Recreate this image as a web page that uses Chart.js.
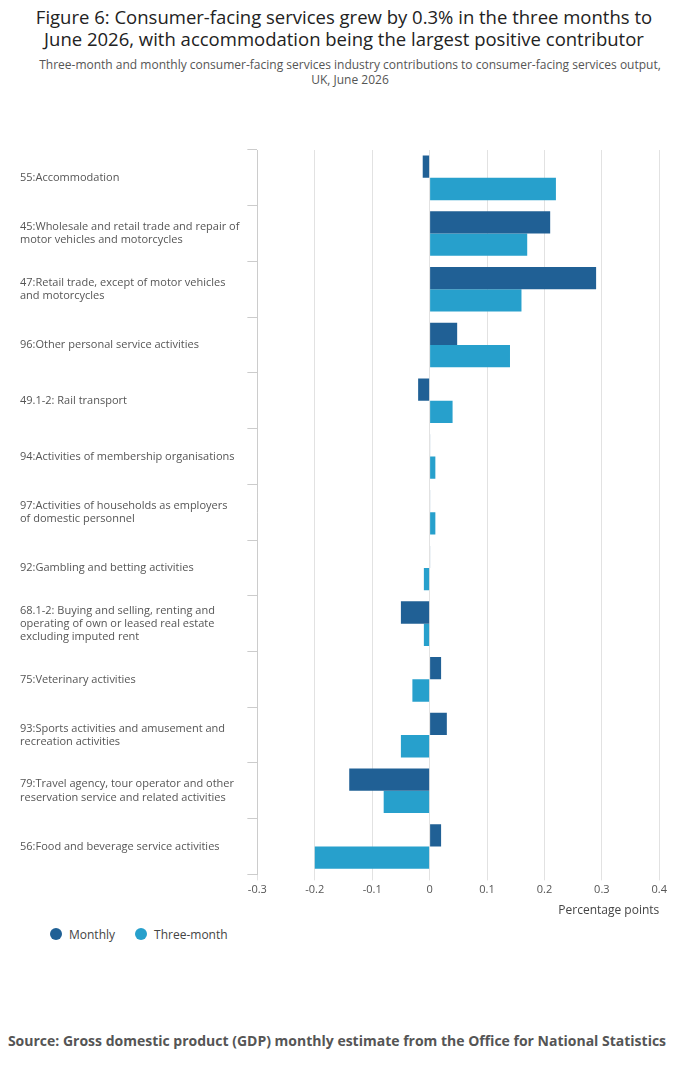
<!DOCTYPE html>
<html><head><meta charset="utf-8">
<script src="https://cdn.jsdelivr.net/npm/chart.js@4"></script>
<style>
body{margin:0;width:700px;height:1067px;background:#fff;font-family:"Open Sans",sans-serif;position:relative}
h1{position:absolute;top:6px;left:-6px;width:700px;text-align:center;font-size:18.5px;font-weight:400;line-height:22px;margin:0;color:#222}
.sub{position:absolute;top:57px;left:0;width:700px;text-align:center;font-size:12px;color:#555;line-height:15px}
.src{position:absolute;top:1031px;left:-13px;width:700px;text-align:center;font-size:14px;font-weight:700;color:#555}
#wrap{position:absolute;top:100px;left:20px;width:650px;height:822px}
.leg{position:absolute;top:926px;left:50px;font-size:12px;color:#444}
.leg span{display:inline-block;margin-right:20px}
.leg i{display:inline-block;width:12px;height:12px;border-radius:50%;vertical-align:-1px;margin-right:7px}
</style></head><body>
<h1>Figure 6: Consumer-facing services grew by 0.3% in the three months to<br>June 2026, with accommodation being the largest positive contributor</h1>
<div class="sub">Three-month and monthly consumer-facing services industry contributions to consumer-facing services output,<br>UK, June 2026</div>
<div id="wrap"><canvas id="c"></canvas></div>
<div class="leg"><span><i style="background:#206095"></i>Monthly</span><span><i style="background:#27a0cc"></i>Three-month</span></div>
<div class="src">Source: Gross domestic product (GDP) monthly estimate from the Office for National Statistics</div>
<script>
const categories=[["55:Accommodation"],["45:Wholesale and retail trade and repair of","motor vehicles and motorcycles"],["47:Retail trade, except of motor vehicles","and motorcycles"],["96:Other personal service activities"],["49.1-2: Rail transport"],["94:Activities of membership organisations"],["97:Activities of households as employers","of domestic personnel"],["92:Gambling and betting activities"],["68.1-2: Buying and selling, renting and","operating of own or leased real estate","excluding imputed rent"],["75:Veterinary activities"],["93:Sports activities and amusement and","recreation activities"],["79:Travel agency, tour operator and other","reservation service and related activities"],["56:Food and beverage service activities"]];
const monthly=[-0.012,0.21,0.29,0.048,-0.02,0.001,0.001,0.001,-0.05,0.02,0.03,-0.14,0.02];
const threeMonth=[0.22,0.17,0.16,0.14,0.04,0.01,0.01,-0.01,-0.01,-0.03,-0.05,-0.08,-0.2];
const ticks=[-0.3,-0.2,-0.1,0,0.1,0.2,0.3,0.4];
Chart.defaults.font.family='"Open Sans",sans-serif';
new Chart(document.getElementById('c'),{type:'bar',
data:{labels:categories,datasets:[
{label:'Monthly',data:monthly,backgroundColor:'#206095',barPercentage:1,categoryPercentage:0.8},
{label:'Three-month',data:threeMonth,backgroundColor:'#27a0cc',barPercentage:1,categoryPercentage:0.8}]},
options:{indexAxis:'y',responsive:true,maintainAspectRatio:false,animation:false,
layout:{padding:{top:50,right:5}},
plugins:{legend:{display:false},tooltip:{enabled:false}},
scales:{x:{min:-0.3,max:0.4,afterBuildTicks:a=>{a.ticks=ticks.map(v=>({value:v}))},
ticks:{color:'#555',font:{size:11},callback:v=>String(Math.round(v*10)/10)},
grid:{color:'#e2e2e2',drawTicks:true,tickLength:6},border:{display:false},
title:{display:true,text:'Percentage points',align:'end',color:'#444',font:{size:12}}},
y:{ticks:{color:'#555',font:{size:11},autoSkip:false,padding:4,crossAlign:'far'},grid:{offset:true,drawOnChartArea:false,tickLength:10,color:'#ccc'},border:{color:'#ccc'}}}}});
</script></body></html>
